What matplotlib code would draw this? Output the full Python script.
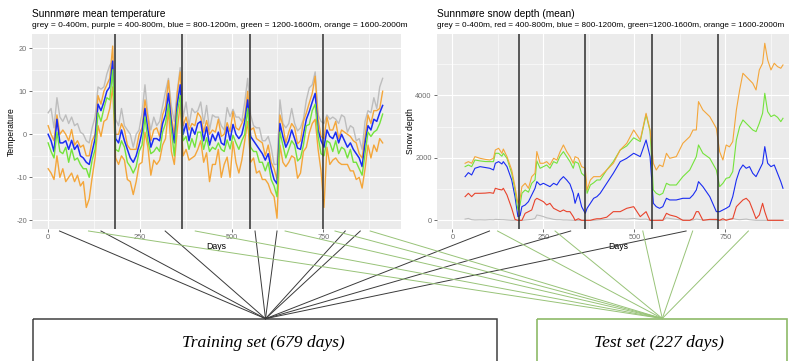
import numpy as np
import matplotlib.pyplot as plt
from matplotlib.patches import Rectangle
from matplotlib.lines import Line2D

plt.rcParams['font.family'] = ['Liberation Sans', 'DejaVu Sans']
plt.rcParams['axes.unicode_minus'] = False

# ---- temperature (deg C), one reading every 8 days ----
temp_days = np.arange(0, 913, 8)
temp_grey = [5, 6, 1.5, 8.5, 4, 3, 4.5, 2.5, 4, 2,
             2.5, 0.5, 0, -1.5, -2, 1.5, 4, 11, 10.5, 11,
             14, 16, 17, 3.5, 2, 6, 2, 1, 0, -3,
             0, 1, 5, 11.5, 4.5, 1, 4, 2, 3, 6.5,
             10, 13, 6.5, 3, 10, 15.5, 4, 7.5, 2, 6,
             5, 5.5, 7.5, 2.5, 6.7, 1, 4.5, 4, 4, 2,
             1, 6.2, 4.1, 5.8, 4, 4, 3, 7.5, 13, 4.5,
             2, 1.5, 1.5, -1.5, -1.5, -0.5, -3, -7, -7, 8,
             2.5, 1.5, 2.5, 6, 2.5, 0.8, 1.5, 3.5, 8, 10.8,
             11.5, 14.5, 4.5, 3, 2.5, 4.5, 3.5, 4, 3.5, 2.5,
             4.5, 4, 0.5, 2, 1.5, -1.5, -1, -3.5, 3, 5.5,
             5, 8.5, 6, 11, 13]
temp_orange_hi = [2, 0, -1.5, 4.5, 0, 1, 0, -1.5, 1.1, -2.5,
                  -1.5, -3, -2.5, -5, -5, -1.5, 0, 9, 7, 10,
                  11.5, 13, 20.5, 0, 0, 2.5, 1, -2.5, -3.5, -3.5,
                  -3.5, 0, 1.5, 8, 4, -1.5, 1, 1.5, -0.5, 4.5,
                  6.5, 12.5, 4, 0, 9.5, 14.5, 2, 4, 1, 2.5,
                  2, 5, 4, 0.5, 3.2, 0, 1, 0.5, 3.5, -0.5,
                  0, 2.7, 0.6, 5.3, 1.5, 1, 2.5, 4, 10, 1,
                  1.5, -1, -1.5, -2, -5, -2.5, -6.5, -8, -10.5, 4.5,
                  2, -2, 0.5, 2.5, 1.5, -2.2, -1.5, 3, 5, 7.3,
                  9.5, 13.5, 3.5, -0.5, -1, 4, 1, 1, 3, -1,
                  1, 0.5, 0, -0.5, -1.5, -2, -4.5, -5.5, -0.5, 4.5,
                  2.5, 5.5, 5.5, 6, 10]
temp_blue = [0, -1.5, -4, 3.5, -2, -2, -1.5, -3.5, -1.4, -3.5,
             -2.5, -5, -5.5, -6.5, -7, -4, -1, 7, 5.5, 7.5,
             10, 11, 17, -1, -2, 1, -1.5, -3.5, -5.5, -6.5,
             -5, -2.5, 0.5, 6, 1, -3, -1, -1, -1.5, 2.5,
             4.5, 9.5, 2.5, -2, 7, 11.5, 0, 2.5, -1.5, 1.5,
             0, 2.5, 3, -1.5, 1.7, -2.5, 0, -1.5, 0.5, -2,
             -2.5, 1.7, -1.4, 2.3, 0, -1, 0, 3, 8, -0.5,
             -1.5, -2.5, -3.5, -4.5, -6, -4.5, -8, -10.5, -11.5, 2.5,
             -0.5, -3, -1.5, 1, -1, -3.2, -3.5, 0, 3.5, 5.3,
             7.5, 9.5, 1, -1.5, -3, 1, -0.5, -1, 0.5, -2,
             0, -1.5, -3, -2, -3.5, -4.5, -5.5, -7.5, -2, 2,
             1, 3.5, 3, 5, 6.7]
temp_green = [-2, -4, -5.5, 0.5, -4, -4.5, -3, -6.5, -3.4, -6,
              -5.5, -7, -8, -8, -10, -6, -3.5, 5, 3, 6,
              8.5, 8, 15, -3.5, -4, -1.5, -3, -6.5, -7.5, -9,
              -7.5, -4, -2.5, 4, -1.5, -4.5, -4, -3, -4, 0.5,
              2.5, 7, 1, -5, 5, 9, -1.5, -0.5, -3.5, -1,
              -3, 0.5, 0.5, -3.5, -0.8, -4, -3, -3.5, -2, -3.5,
              -4, -1.3, -3.4, -0.2, -2, -3.5, -1.5, 0, 6, -3,
              -4, -4, -6.5, -6.5, -8.5, -6.5, -10.5, -12, -14.5, 0.5,
              -2.5, -5.5, -3.5, -1.5, -2.5, -6.2, -5.5, -2.5, 2, 2.3,
              5.5, 7, -0.5, -4.5, -5, -1.5, -2, -4, -1.5, -4.5,
              -3, -3.5, -5.5, -3.5, -6.5, -6.5, -8, -9.5, -4.5, 0.5,
              -0.5, 0.5, 1, 2.5, 4.7]
temp_orange_lo = [-8, -9, -10.5, -5, -10, -8, -11, -10, -9, -11,
                  -9.5, -12, -11, -17, -15, -10, -5.5, 2, -0.5, 3,
                  3.5, 6, 11, -5.5, -7, -5, -6, -10.5, -11, -14,
                  -11, -7, -6.5, 0.5, -3, -9.5, -6, -7, -6, -2.5,
                  -1, 5.5, -4, -7, 1, 7, -5, -3.5, -6, -5.5,
                  -5, -3.5, -1.5, -6.5, -4.3, -11, -7, -7, -3.5, -10,
                  -7, -5.3, -10, -1.7, -6.5, -9, -6, -1.5, 3, -6.5,
                  -5.5, -9, -8.5, -10.5, -10.5, -11.5, -13.5, -14.5, -19.5, -2.5,
                  -6.5, -7.5, -6.5, -5, -5.5, -10.2, -9, -4, -3, 0.3,
                  2.5, 3.5, -3.5, -8.5, -17, -3, -7, -6, -5.5, -6.5,
                  -7, -7, -7, -8.5, -8.5, -10.5, -10, -12.5, -8, -2.5,
                  -5.5, -2.5, -4, -1, -2]

# ---- snow depth (mm) ----
snow_days = [35, 44, 53, 62, 76, 90, 103, 113, 118, 127,
             136, 140, 150, 163, 172, 180, 186, 191, 200, 209,
             218, 227, 232, 241, 250, 259, 268, 278, 287, 296,
             305, 314, 323, 332, 337, 346, 355, 365, 370, 379,
             388, 397, 406, 424, 442, 461, 479, 498, 516, 532,
             543, 552, 560, 569, 578, 588, 597, 615, 633, 652,
             661, 670, 676, 688, 707, 725, 734, 743, 752, 761,
             770, 780, 789, 798, 807, 816, 825, 834, 843, 852,
             858, 866, 875, 884, 893, 902, 908]
snow_grey = [40, 60, 20, 10, 15, 10, 20, 15, 30, 25,
             20, 20, 10, 0, 0, 0, 0, 0, 10, 20,
             30, 60, 170, 150, 120, 80, 60, 30, 20, 20,
             10, 10, 5, 0, 0, 0, 0, 0, 0, 0,
             0, 10, 20, 30, 40, 50, 40, 60, 30, 40,
             0, 0, 0, 10, 0, 80, 60, 30, 10, 0,
             10, 40, 30, 10, 10, 0, 0, 0, 20, 40,
             60, 30, 20, 30, 40, 20, 10, 0, 0, 0,
             0, 0, 0, 0, 0, 0, 0]
snow_red = [757, 864, 757, 864, 864, 870, 885, 864, 1024, 992,
            971, 1024, 811, 384, 30, 0, 0, 0, 224, 277,
            331, 651, 704, 651, 597, 490, 544, 384, 331, 277,
            331, 277, 277, 117, 0, 50, 0, 0, 0, 0,
            30, 50, 50, 100, 277, 277, 384, 437, 117, 277,
            0, 0, 0, 0, 0, 224, 171, 117, 0, 0,
            50, 277, 277, 0, 30, 30, 0, 50, 0, 30,
            50, 437, 544, 651, 704, 597, 331, 53, 171, 544,
            277, 0, 0, 0, 0, 0, 0]
snow_blue = [1397, 1525, 1450, 1664, 1717, 1690, 1664, 1610, 1824, 1877,
             1802, 1877, 1717, 1290, 757, 117, 150, 437, 490, 597,
             811, 1024, 1237, 1130, 1184, 1130, 1077, 1184, 1130, 1290,
             1397, 1290, 1160, 864, 544, 864, 437, 224, 384, 544,
             704, 757, 864, 1184, 1504, 1877, 1984, 2144, 2037, 2570,
             2037, 544, 437, 384, 437, 704, 651, 651, 704, 704,
             811, 971, 1237, 1077, 757, 277, 277, 331, 384, 450,
             757, 1290, 1610, 1770, 1664, 1717, 1504, 1397, 1610, 1824,
             2357, 1824, 1717, 1770, 1504, 1237, 1024]
snow_green = [1717, 1770, 1717, 1930, 1900, 1880, 1877, 1877, 2144, 2144,
              2050, 2144, 1984, 1504, 971, 330, 500, 864, 971, 900,
              1184, 1290, 1900, 1664, 1717, 1770, 1664, 1877, 1824, 2058,
              2197, 2037, 1877, 1664, 1877, 1824, 1504, 1397, 864, 1130,
              1200, 1290, 1290, 1610, 1877, 2250, 2380, 2640, 2520, 3380,
              2850, 971, 864, 811, 864, 1184, 1130, 1130, 1397, 1610,
              1824, 2037, 2410, 2144, 1984, 1610, 1077, 1184, 1344, 1370,
              1557, 2570, 2997, 3210, 3104, 2997, 2890, 2837, 3104, 3424,
              4064, 3477, 3317, 3370, 3296, 3157, 3264]
snow_orange = [1824, 1877, 1824, 2037, 1984, 1950, 1930, 1984, 2250, 2304,
               2144, 2280, 2037, 1610, 1077, 544, 700, 1077, 1184, 1024,
               1397, 1504, 2200, 1824, 1824, 1877, 1770, 1984, 1930, 2197,
               2410, 2197, 2037, 1824, 2037, 1984, 1717, 1664, 971, 1290,
               1397, 1397, 1397, 1610, 1824, 2250, 2464, 2890, 2570, 3424,
               2890, 1824, 1610, 1770, 1717, 2144, 1984, 2037, 2464, 2677,
               2890, 2890, 3797, 3530, 3317, 2944, 2197, 1930, 2410, 2350,
               2517, 3530, 4170, 4704, 4597, 4490, 4384, 4170, 4810, 5024,
               5664, 5130, 4810, 5024, 4917, 4864, 4970]

# period boundaries (days)
temp_splits = [183, 366, 551, 749]
snow_splits = [183, 365, 548, 730]

# days where each training / test connector leaves the axis
temp_train_links = [31, 144, 319, 564, 624, 810, 851]
snow_train_links = [102, 325, 642]
temp_test_links = [110, 401, 646, 782, 878]
snow_test_links = [124, 282, 523, 660, 813]

W, H = 789, 361
fig = plt.figure(figsize=(W / 100, H / 100), dpi=100)


def px_axes(x0, y0, x1, y1):
    return fig.add_axes([x0 / W, 1 - y1 / H, (x1 - x0) / W, (y1 - y0) / H])


def gg_style(ax, yticks, yminor):
    ax.set_facecolor('#EBEBEB')
    for s in ax.spines.values():
        s.set_visible(False)
    ax.set_xticks([0, 250, 500, 750])
    ax.set_xticks([125, 375, 625, 875], minor=True)
    ax.set_yticks(yticks)
    ax.set_yticks(yminor, minor=True)
    ax.grid(which='major', color='white', lw=0.8)
    ax.grid(which='minor', color='white', lw=0.4)
    ax.set_axisbelow(True)
    ax.tick_params(which='major', length=2, width=0.5, color='#333333',
                   labelsize=5.3, labelcolor='#6e6e6e', pad=1.5)
    ax.tick_params(which='minor', length=0)


ORANGE = '#f4a63a'
GREY = '#bdbdbd'
BLUE = '#1a2cf2'
GREEN = '#74e33c'
RED = '#e8432c'

# temperature panel
ax_t = px_axes(32, 34, 401, 229)
gg_style(ax_t, [-20, -10, 0, 10, 20], [-15, -5, 5, 15])
ax_t.plot(temp_days, temp_grey, color=GREY, lw=1.0)
ax_t.plot(temp_days, temp_orange_hi, color=ORANGE, lw=1.0)
ax_t.plot(temp_days, temp_orange_lo, color=ORANGE, lw=1.0)
ax_t.plot(temp_days, temp_blue, color=BLUE, lw=1.1)
ax_t.plot(temp_days, temp_green, color=GREEN, lw=1.0)
for d in temp_splits:
    ax_t.axvline(d, color='#2e2e2e', lw=1.1, zorder=5)
ax_t.set_xlim(-44, 962)
ax_t.set_ylim(-22, 23.3)
ax_t.set_xlabel('Days', fontsize=6.3, labelpad=1)
ax_t.set_ylabel('Temperature', fontsize=6.2)
ax_t.yaxis.set_label_coords((15.5 - 32) / 369, 0.5)

# snow panel
ax_s = px_axes(436.7, 34, 799, 229)
gg_style(ax_s, [0, 2000, 4000], [1000, 3000, 5000])
ax_s.plot(snow_days, snow_grey, color=GREY, lw=0.8)
ax_s.plot(snow_days, snow_red, color=RED, lw=0.8)
ax_s.plot(snow_days, snow_blue, color=BLUE, lw=0.8)
ax_s.plot(snow_days, snow_green, color=GREEN, lw=0.8)
ax_s.plot(snow_days, snow_orange, color=ORANGE, lw=0.8)
for d in snow_splits:
    ax_s.axvline(d, color='#2e2e2e', lw=1.1, zorder=5)
ax_s.set_xlim(-43, 952)
ax_s.set_ylim(-278, 5960)
ax_s.set_xlabel('Days', fontsize=6.3, labelpad=1)
ax_s.set_ylabel('Snow depth', fontsize=6.2)
ax_s.yaxis.set_label_coords((415 - 436.7) / 362.3, 0.5)

# titles
fig.text(32 / W, 1 - 16.7 / H, 'Sunnmøre mean temperature', fontsize=7.3, va='baseline')
fig.text(32 / W, 1 - 27.3 / H,
         'grey = 0-400m, purple = 400-800m, blue = 800-1200m, green = 1200-1600m, orange = 1600-2000m',
         fontsize=6, va='baseline')
fig.text(436.7 / W, 1 - 16.7 / H, 'Sunnmøre snow depth (mean)', fontsize=7.3, va='baseline')
fig.text(436.7 / W, 1 - 27.3 / H,
         'grey = 0-400m, red = 400-800m, blue = 800-1200m, green=1200-1600m, orange = 1600-2000m',
         fontsize=5.85, va='baseline')

# overlay in pixel coordinates for connectors and boxes
ov = fig.add_axes([0, 0, 1, 1], zorder=10)
ov.set_xlim(0, W)
ov.set_ylim(H, 0)
ov.axis('off')
ov.patch.set_alpha(0)

train_pt = (265.5, 318.7)
test_pt = (662.3, 318.5)
link_y = 231


def link(ax, days, target, color):
    for d in days:
        x0 = ax.transData.transform((d, 0))[0]
        ov.add_line(Line2D([x0, target[0]], [link_y, target[1]], color=color, lw=0.7))


link(ax_t, temp_train_links, train_pt, '#3a3a3a')
link(ax_s, snow_train_links, train_pt, '#3a3a3a')
link(ax_t, temp_test_links, test_pt, '#98c378')
link(ax_s, snow_test_links, test_pt, '#98c378')

ov.add_patch(Rectangle((33.3, 318.7), 464, 80, fill=False, ec='#404040', lw=1.1))
ov.add_patch(Rectangle((537.3, 318.7), 249.4, 80, fill=False, ec='#8dba68', lw=1.2))
ov.text(263, 343, 'Training set (679 days)', family='Liberation Serif', style='italic',
        fontsize=12.6, ha='center', va='center')
ov.text(659, 343, 'Test set (227 days)', family='Liberation Serif', style='italic',
        fontsize=12.6, ha='center', va='center')

fig.savefig('out.png', dpi=100)
